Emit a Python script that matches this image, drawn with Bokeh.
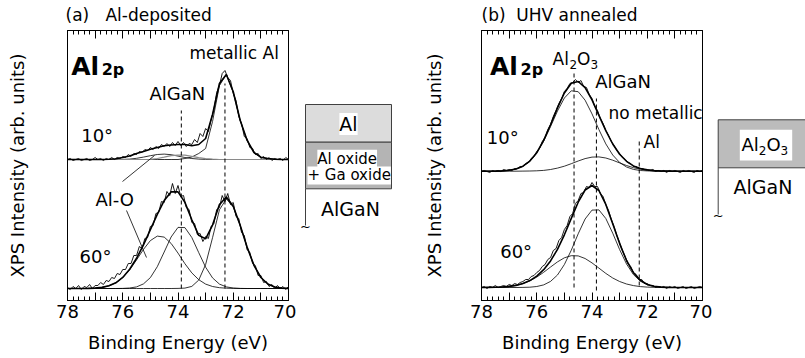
from bokeh.plotting import figure
from bokeh.models import Label, Range1d, LinearAxis, FixedTicker, CustomLabelingPolicy
from bokeh.layouts import row
from bokeh.embed import file_html
from bokeh.resources import INLINE

# ---------------- data ----------------
raw_energy = [78.0, 77.9, 77.8, 77.7, 77.6, 77.5, 77.4, 77.3, 77.2, 77.1,
              77.0, 76.9, 76.8, 76.7, 76.6, 76.5, 76.4, 76.3, 76.2, 76.1,
              76.0, 75.9, 75.8, 75.7, 75.6, 75.5, 75.4, 75.3, 75.2, 75.1,
              75.0, 74.9, 74.8, 74.7, 74.6, 74.5, 74.4, 74.3, 74.2, 74.1,
              74.0, 73.9, 73.8, 73.7, 73.6, 73.5, 73.4, 73.3, 73.2, 73.1,
              73.0, 72.9, 72.8, 72.7, 72.6, 72.5, 72.4, 72.3, 72.2, 72.1,
              72.0, 71.9, 71.8, 71.7, 71.6, 71.5, 71.4, 71.3, 71.2, 71.1,
              71.0, 70.9, 70.8, 70.7, 70.6, 70.5, 70.4, 70.3, 70.2, 70.1, 70.0]

fit_energy = [78.0, 77.75, 77.5, 77.25, 77.0, 76.75, 76.5, 76.25, 76.0, 75.75,
              75.5, 75.25, 75.0, 74.75, 74.5, 74.25, 74.0, 73.75, 73.5, 73.25,
              73.0, 72.75, 72.5, 72.25, 72.0, 71.75, 71.5, 71.25, 71.0, 70.75,
              70.5, 70.25, 70.0]

# (a) Al-deposited, 10 deg
raw_a10 = [140, 141, 139, 140, 141, 139, 140, 141, 139, 140,
           142, 140, 141, 139, 141, 140, 142, 140, 142, 141,
           143, 142, 145, 143, 146, 145, 148, 147, 150, 149,
           152, 150, 153, 151, 155, 153, 156, 153, 157, 154,
           158, 154, 157, 153, 156, 155, 160, 157, 166, 163,
           171, 168, 180, 190, 207, 214, 226, 229, 222, 219,
           206, 199, 183, 176, 163, 161, 152, 151, 145, 146,
           141, 143, 140, 142, 139, 141, 140, 141, 139, 142, 140]
env_a10 = [140, 140, 140, 140, 140, 140, 140.3, 140.8, 142, 143.5,
           146, 148, 150.3, 152, 153.7, 154.5, 155, 155, 153.7, 155,
           161, 185, 216, 225, 207.7, 179.3, 159.3, 147, 142.3, 141,
           140.3, 140, 140]
metal_a10 = [140, 140, 140, 140, 140, 140, 140, 140, 140, 140,
             140, 140, 140, 140, 140, 140, 140, 141, 142.5, 146,
             151, 178, 214, 225, 207, 179, 159, 147, 142, 141,
             140.3, 140, 140]
alo_a10 = [140, 140, 140, 140, 140, 140, 140, 140, 140.1, 140.4,
           141.2, 142.4, 143.8, 145, 145.4, 144.8, 143.4, 142, 141, 140.4,
           140.1, 140, 140, 140, 140, 140, 140, 140, 140, 140,
           140, 140, 140]
algan_a10 = [140, 140, 140, 140, 140, 140, 140, 140, 140, 140,
             140, 140, 140.2, 141, 142.3, 143.8, 144.4, 144.3, 143.2, 141.8,
             140.8, 140.3, 140, 140, 140, 140, 140, 140, 140, 140,
             140, 140, 140]

# (a) Al-deposited, 60 deg
raw_a60 = [12, 10, 13, 11, 14, 10, 13, 12, 15, 11,
           14, 14, 17, 15, 19, 18, 22, 21, 26, 25,
           30, 30, 36, 36, 44, 44, 53, 51, 61, 62,
           73, 74, 86, 87, 98, 97, 108, 104, 116, 106,
           114, 103, 104, 92, 90, 77, 76, 65, 66, 58,
           63, 61, 73, 76, 90, 92, 104, 98, 106, 95,
           97, 83, 81, 67, 64, 50, 47, 36, 34, 24,
           24, 17, 18, 13, 15, 11, 14, 11, 13, 10, 13]
env_a60 = [11, 11, 11, 11.1, 11.4, 12.1, 13.7, 16.7, 22.1, 30.2,
           41.2, 54.7, 69.8, 85.2, 98.9, 107.6, 107.6, 97.1, 79.7, 64.1,
           60.7, 74.4, 94.9, 102.5, 93.2, 74.3, 52.5, 34.2, 22, 15.5,
           12.5, 11.4, 11.1]
alo_a60 = [11, 11, 11, 11.1, 11.4, 12.1, 13.7, 16.7, 22, 29.7,
           39.6, 50.1, 58.9, 63.4, 62.4, 56.1, 46.4, 35.8, 26.6, 19.8,
           15.4, 13, 11.8, 11.3, 11.1, 11, 11, 11, 11, 11,
           11, 11, 11]
algan_a60 = [11, 11, 11, 11, 11, 11, 11, 11, 11.1, 11.5,
             12.6, 15.6, 21.9, 32.8, 47.5, 62.5, 72.1, 71.9, 62, 46.9,
             32.3, 21.6, 15.4, 12.6, 11.5, 11.1, 11, 11, 11, 11,
             11, 11, 11]
metal_a60 = [11, 11, 11, 11, 11, 11, 11, 11, 11, 11,
             11, 11, 11, 11, 11, 11, 11.1, 11.4, 13.1, 19.4,
             35, 61.8, 89.7, 100.6, 92.6, 74.2, 52.5, 34.2, 22, 15.5,
             12.5, 11.4, 11.1]

# (b) UHV annealed, 10 deg
raw_b10 = [128, 129, 128, 127, 129, 128, 129, 128, 130, 129,
           130, 129, 131, 131, 133, 133, 136, 137, 141, 143,
           148, 151, 158, 162, 170, 175, 183, 189, 196, 201,
           208, 211, 216, 217, 220, 217, 219, 213, 212, 205,
           201, 193, 189, 181, 176, 169, 164, 158, 154, 149,
           146, 142, 140, 137, 136, 133, 133, 131, 131, 130,
           130, 129, 130, 128, 129, 128, 129, 127, 129, 128,
           129, 128, 127, 129, 128, 129, 128, 127, 129, 128, 129]
env_b10 = [128.3, 128.3, 128.4, 128.6, 129.2, 130.5, 133.3, 138.4, 146.8, 159.1,
           174.7, 191.6, 206.5, 216.2, 218, 211.9, 199.7, 184.2, 168.8, 155.5,
           145.3, 138.2, 133.6, 131, 129.6, 128.9, 128.5, 128.4, 128.3, 128.3,
           128.3, 128.3, 128.3]
al2o3_b10 = [128.3, 128.3, 128.4, 128.6, 129.2, 130.5, 133.2, 138.2, 146.4, 158.3,
             173, 188.5, 201.5, 208.7, 207.8, 199.3, 185.6, 169.9, 155.6, 144.5,
             137, 132.5, 130.1, 129, 128.6, 128.4, 128.3, 128.3, 128.3, 128.3,
             128.3, 128.3, 128.3]
algan_b10 = [128.3, 128.3, 128.3, 128.3, 128.3, 128.3, 128.4, 128.5, 128.7, 129.1,
             130, 131.4, 133.3, 135.8, 138.5, 140.9, 142.4, 142.6, 141.5, 139.3,
             136.6, 134, 131.8, 130.3, 129.3, 128.8, 128.5, 128.4, 128.3, 128.3,
             128.3, 128.3, 128.3]

# (b) UHV annealed, 60 deg
raw_b60 = [12, 13, 11, 13, 12, 14, 12, 13, 14, 13,
           15, 14, 16, 15, 17, 18, 20, 20, 23, 24,
           27, 29, 33, 35, 40, 42, 49, 51, 59, 62,
           70, 74, 83, 86, 96, 99, 106, 107, 113, 112,
           117, 113, 113, 106, 103, 95, 89, 80, 73, 64,
           57, 49, 43, 36, 33, 27, 25, 20, 20, 16,
           16, 14, 14, 12, 13, 12, 13, 11, 13, 12,
           13, 11, 12, 13, 11, 12, 13, 11, 12, 13, 12]
env_b60 = [12, 12.1, 12.2, 12.5, 13.1, 14.1, 16, 18.9, 23.4, 29.8,
           38.6, 50.1, 64.7, 81.1, 97.3, 109.5, 114, 109, 95.1, 75.8,
           55.9, 39, 26.8, 19.2, 15.1, 13.2, 12.4, 12.1, 12, 12,
           12, 12, 12]
al2o3_b60 = [12, 12.1, 12.2, 12.5, 13.1, 14.1, 15.9, 18.6, 22.4, 27.2,
             32.5, 37.6, 41.7, 43.8, 43.6, 41, 36.6, 31.4, 26.1, 21.5,
             18, 15.5, 13.9, 12.9, 12.4, 12.2, 12.1, 12, 12, 12,
             12, 12, 12]
algan_b60 = [12, 12, 12, 12, 12, 12, 12.1, 12.3, 13, 14.6,
             18.1, 24.5, 35, 49.3, 65.7, 80.5, 89.4, 89.6, 81, 66.3,
             49.9, 35.5, 24.9, 18.3, 14.7, 13, 12.3, 12.1, 12, 12,
             12, 12, 12]

# reference peak positions (eV) with dashed-line extents
peaks_a = [73.88, 72.30]
peaks_a_top = [189, 216]
peaks_a_bottom = [11, 11]
peaks_b = [74.65, 73.84, 72.29]
peaks_b_top = [228, 201, 161]
peaks_b_bottom = [12, 9, 14]

major_ticks = [70, 71, 72, 73, 74, 75, 76, 77, 78]
minor_ticks = [round(70 + 0.2 * i, 1) for i in range(41)]

FONT = "DejaVu Sans"
PX_PER_EV = 27.625
FIG_H = 358
TOP, BOTTOM = 30, 58
NBSP = "\u00a0"


def lab(p, x, y, text, size, align="left", bold=False, bg=None, mid=False):
    # y is the text baseline (alphabetic) unless mid=True; draw centred on the cap height
    yc = y if mid else y + 0.34 * size
    kw = dict(x=x, y=yc, text=text, text_font=FONT, text_font_size=f"{size}px",
              text_align=align, text_baseline="middle", text_color="black",
              text_font_style="bold" if bold else "normal")
    if bg:
        kw["background_fill_color"] = bg
    p.add_layout(Label(**kw))


def panel(title, title_offset, border_left, border_right, ylab_standoff):
    p = figure(width=border_left + 221 + border_right, height=FIG_H,
               x_range=Range1d(78, 70), y_range=Range1d(-1, 269),
               output_backend="svg", toolbar_location=None,
               min_border_left=border_left, min_border_right=border_right,
               min_border_top=TOP, min_border_bottom=BOTTOM)
    p.title.text = title
    p.title.align = "left"
    p.title.offset = title_offset
    p.title.standoff = 3
    p.title.text_font = FONT
    p.title.text_font_size = "17px"
    p.title.text_font_style = "normal"
    p.title.text_color = "black"
    p.grid.visible = False
    p.outline_line_color = "black"
    p.outline_line_width = 1
    p.background_fill_color = "white"
    p.border_fill_color = "white"

    xa = p.xaxis[0]
    xa.ticker = FixedTicker(ticks=major_ticks, minor_ticks=minor_ticks)
    # label only the even energies
    xa.major_label_policy = CustomLabelingPolicy(code="""
        for (const i of indices) {
            if (i % 2 == 1) indices.unset(i)
        }
        return indices
    """)
    xa.major_tick_in = 8
    xa.major_tick_out = 0
    xa.minor_tick_in = 4
    xa.minor_tick_out = 0
    xa.axis_line_color = "black"
    xa.major_tick_line_color = "black"
    xa.minor_tick_line_color = "black"
    xa.major_label_text_font = FONT
    xa.major_label_text_font_size = "18px"
    xa.major_label_text_color = "black"
    xa.major_label_standoff = 4
    xa.axis_label = "Binding Energy (eV)"
    xa.axis_label_text_font = FONT
    xa.axis_label_text_font_size = "18px"
    xa.axis_label_text_font_style = "normal"
    xa.axis_label_text_color = "black"
    xa.axis_label_standoff = 11

    top = LinearAxis(ticker=FixedTicker(ticks=major_ticks, minor_ticks=minor_ticks),
                     major_label_text_font_size="1px", major_label_standoff=0,
                     axis_label_standoff=0,
                     major_label_policy=CustomLabelingPolicy(code="""
                         for (const i of indices) { indices.unset(i) }
                         return indices
                     """),
                     major_tick_in=8, major_tick_out=0, minor_tick_in=4, minor_tick_out=0,
                     axis_line_color="black", major_tick_line_color="black",
                     minor_tick_line_color="black")
    p.add_layout(top, "above")

    ya = p.yaxis[0]
    ya.ticker = FixedTicker(ticks=[])
    ya.major_label_standoff = 0
    ya.major_tick_in = 0
    ya.major_tick_out = 0
    ya.minor_tick_in = 0
    ya.minor_tick_out = 0
    ya.axis_line_color = "black"
    ya.axis_label = "XPS Intensity (arb. units)"
    ya.axis_label_text_font = FONT
    ya.axis_label_text_font_size = "18px"
    ya.axis_label_text_font_style = "normal"
    ya.axis_label_text_color = "black"
    ya.axis_label_standoff = ylab_standoff
    return p


def sketch(width):
    s = figure(width=width, height=FIG_H, x_range=Range1d(0, width), y_range=Range1d(-1, 269),
               output_backend="svg", toolbar_location=None,
               min_border_left=0, min_border_right=0,
               min_border_top=TOP, min_border_bottom=BOTTOM,
               x_axis_location=None, y_axis_location=None)
    s.grid.visible = False
    s.outline_line_color = None
    return s


# ---------------- panel (a) ----------------
pa = panel("(a)" + NBSP * 3 + "Al-deposited", -2, 67, 8, 40)


def ea(x):
    return 78 - (x - 67) / PX_PER_EV


for comp in (alo_a10, metal_a10, alo_a60, algan_a60, metal_a60):
    pa.line(fit_energy, comp, line_color="black", line_width=0.8)
pa.line(fit_energy, algan_a10, line_color="#8a8a8a", line_width=1.2)
pa.line(fit_energy, env_a10, line_color="black", line_width=1.6)
pa.line(fit_energy, env_a60, line_color="black", line_width=1.6)
pa.line(raw_energy, raw_a10, line_color="black", line_width=0.9)
pa.line(raw_energy, raw_a60, line_color="black", line_width=0.9)
pa.segment(x0=peaks_a, y0=peaks_a_bottom, x1=peaks_a, y1=peaks_a_top,
           line_color="black", line_width=1, line_dash="4 3")
pa.segment(x0=[ea(122), ea(126)], y0=[118, 89], x1=[ea(154), ea(146)], y1=[144, 42],
           line_color="black", line_width=0.8)

lab(pa, ea(70.7), 224.3, "Al", 25, bold=True)
lab(pa, ea(101.2), 224.3, "2p", 16, bold=True)
lab(pa, ea(189), 241, "metallic Al", 17)
lab(pa, ea(149), 200.3, "AlGaN", 18)
lab(pa, ea(80.7), 157.7, "10°", 18)
lab(pa, ea(79), 37.3, "60°", 18)
lab(pa, ea(95), 94, "Al-O", 18)

# ---------------- schematic (a) ----------------
sa = sketch(104)
sa.quad(left=[9], right=[95], top=[195], bottom=[157.3], fill_color="#dcdcdc",
        line_color="#404040", line_width=1)
sa.quad(left=[9], right=[95], top=[157.3], bottom=[110.7], fill_color="#b4b4b4",
        line_color="#404040", line_width=1)
sa.line([9, 9], [110.7, 74], line_color="#404040", line_width=1)
lab(sa, 52, 169, "Al", 19, align="center", bg="white")
lab(sa, 50.7, 135.7, "Al oxide", 15, align="center", bg="white")
lab(sa, 52.7, 119, "+ Ga oxide", 15, align="center", bg="white")
lab(sa, 54, 84, "AlGaN", 19, align="center")
lab(sa, 9, 73, "~", 13, align="center", mid=True)

# ---------------- panel (b) ----------------
pb = panel("(b)" + NBSP * 2 + "UHV annealed", 0, 81, 10, 37)


def eb(x):
    return 78 - (x - 481) / PX_PER_EV


for comp in (al2o3_b10, algan_b10, al2o3_b60, algan_b60):
    pb.line(fit_energy, comp, line_color="black", line_width=0.8)
pb.line(fit_energy, env_b10, line_color="black", line_width=1.6)
pb.line(fit_energy, env_b60, line_color="black", line_width=1.6)
pb.line(raw_energy, raw_b10, line_color="black", line_width=0.9)
pb.line(raw_energy, raw_b60, line_color="black", line_width=0.9)
pb.segment(x0=peaks_b, y0=peaks_b_bottom, x1=peaks_b, y1=peaks_b_top,
           line_color="black", line_width=1, line_dash="4 3")

lab(pb, eb(489.5), 224.3, "Al", 25, bold=True)
lab(pb, eb(520), 224.3, "2p", 16, bold=True)
lab(pb, eb(552), 235, "Al", 17)
lab(pb, eb(568.9), 231, "2", 12)
lab(pb, eb(576.5), 235, "O", 17)
lab(pb, eb(589.9), 231, "3", 12)
lab(pb, eb(594.7), 211.7, "AlGaN", 18)
lab(pb, eb(608), 180.3, "no metallic", 17)
lab(pb, eb(643), 151.7, "Al", 17)
lab(pb, eb(486.3), 156, "10°", 18)
lab(pb, eb(499.7), 41.7, "60°", 18)

# ---------------- schematic (b) ----------------
sb = sketch(93)
sb.quad(left=[5.7], right=[93], top=[179.7], bottom=[131.7], fill_color="#bcbcbc",
        line_color=None)
sb.segment(x0=[5.7, 5.7, 5.7], y0=[179.7, 131.7, 179.7], x1=[93, 93, 5.7], y1=[179.7, 131.7, 85],
           line_color="#404040", line_width=1)
sb.quad(left=[27.3], right=[79.7], top=[169.7], bottom=[139], fill_color="white", line_color=None)
lab(sb, 29, 149, "Al", 18)
lab(sb, 46.3, 145, "2", 12)
lab(sb, 53.9, 149, "O", 18)
lab(sb, 68.1, 145, "3", 12)
lab(sb, 50.5, 105.7, "AlGaN", 19, align="center")
lab(sb, 5.7, 84, "~", 13, align="center", mid=True)

layout = row(pa, sa, pb, sb)
with open("out.html", "w") as f:
    f.write(file_html(layout, INLINE))
